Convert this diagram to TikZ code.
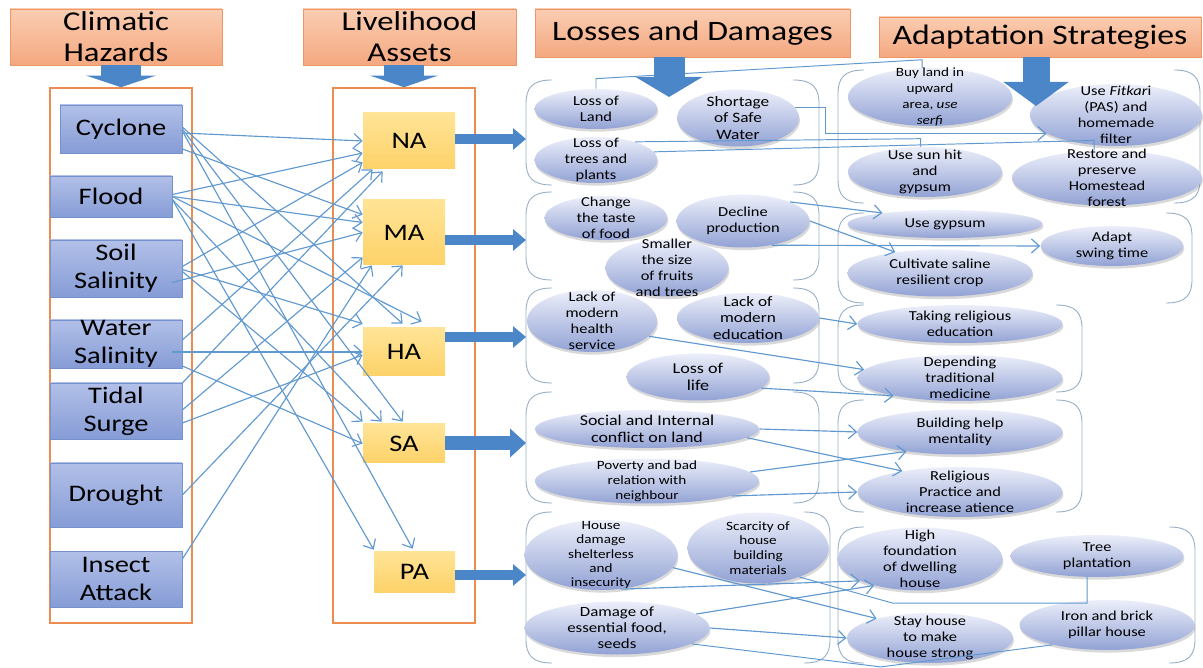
\documentclass[tikz,border=0pt]{standalone}
\usepackage{fontspec}
\setmainfont{Carlito}[FakeStretch=1.2]
\usetikzlibrary{shapes,arrows.meta,positioning,calc,shadows}

\definecolor{hdrtop}{RGB}{250,205,178}
\definecolor{hdrbot}{RGB}{244,168,128}
\definecolor{hdrline}{RGB}{238,150,100}
\definecolor{frameor}{RGB}{236,140,80}
\definecolor{hztop}{RGB}{178,192,232}
\definecolor{hzbot}{RGB}{134,156,214}
\definecolor{hzline}{RGB}{118,146,206}
\definecolor{astop}{RGB}{255,228,150}
\definecolor{asbot}{RGB}{253,210,105}
\definecolor{elltop}{RGB}{236,239,250}
\definecolor{ellbot}{RGB}{146,162,212}
\definecolor{linkblue}{RGB}{96,152,208}
\definecolor{fatblue}{RGB}{74,134,200}
\definecolor{brkcol}{RGB}{150,172,196}

\begin{document}
\begin{tikzpicture}[x=0.02cm,y=-0.02cm,
    dims/.style 2 args={minimum width=#1*0.02cm,minimum height=#2*0.02cm},
    hdr/.style={draw=hdrline,top color=hdrtop,bottom color=hdrbot,inner sep=0pt,align=center,font=\fontsize{15.5}{17.6}\selectfont},
    frame/.style={draw=frameor,line width=0.9pt,inner sep=0pt},
    hz/.style={draw=hzline,top color=hztop,bottom color=hzbot,inner sep=0pt,align=center,font=\fontsize{13.5}{16}\selectfont},
    asset/.style={top color=astop,bottom color=asbot,inner sep=0pt,font=\fontsize{13.5}{16}\selectfont},
    ell/.style={ellipse,inner xsep=-4pt,inner ysep=-12pt,top color=elltop,bottom color=ellbot,
        drop shadow={shadow xshift=0.5pt,shadow yshift=-1.5pt,opacity=0.3},align=center,
        text=black,font=\fontsize{7.8}{9}\selectfont},
    link/.style={draw=linkblue,line width=0.65pt,-{Straight Barb[length=4.5pt,width=8pt]}},
    wire/.style={draw=linkblue,line width=0.55pt},
    brk/.style={draw=brkcol,line width=0.5pt},
    fat/.style={draw=fatblue,line width=0.19cm,-{Triangle[length=0.26cm,width=0.42cm]}},
]
\useasboundingbox (0,0) rectangle (1203,668);

% column heads
\node[hdr,dims={212}{56}] (hCH) at (116,37) {Climatic\\Hazards};
\node[hdr,dims={213}{56}] (hLA) at (409.5,37) {Livelihood\\Assets};
\node[hdr,dims={315}{48},font=\fontsize{16}{18}\selectfont] (hLD) at (692.5,33) {Losses and Damages};
\node[hdr,dims={322}{40},font=\fontsize{16}{18}\selectfont] (hAS) at (1040,37) {Adaptation Strategies};

% frames
\node[frame,dims={142}{535}] (fCH) at (121,355.5) {};
\node[frame,dims={142}{535}] (fLA) at (404,355.5) {};

% hazards
\node[hz,dims={122}{48}] (cyc) at (121,129) {Cyclone};
\node[hz,dims={122}{41}] (fld) at (111,196.5) {Flood};
\node[hz,dims={132}{57}] (soil) at (116,268.5) {Soil\\Salinity};
\node[hz,dims={132}{48}] (wsal) at (116,344) {Water\\Salinity};
\node[hz,dims={132}{56}] (tide) at (116,411) {Tidal\\Surge};
\node[hz,dims={132}{64}] (drt) at (116,495) {Drought};
\node[hz,dims={132}{56}] (ins) at (116,579) {Insect\\Attack};

% assets
\node[asset,dims={92}{56}] (NA) at (409,141) {NA};
\node[asset,dims={82}{65}] (MA) at (404,232.5) {MA};
\node[asset,dims={82}{48}] (HA) at (404,352) {HA};
\node[asset,dims={82}{39}] (SA) at (404,443.5) {SA};
\node[asset,dims={81}{41}] (PA) at (414.5,571.5) {PA};

% hazard -> asset
\draw[link] ($(cyc.east)+(0,4)$) -- (NA.west);
\draw[link] ($(cyc.east)+(0,20)$) -- ($(MA.north west)+(0,15)$);
\draw[link] ($(cyc.east)+(0,-2)$) -- ($(HA.north west)+(40,-4)$);
\draw[link] (cyc.east) -- ($(SA.north west)+(40,-2)$);
\draw[link] ($(cyc.east)+(0,2)$) -- ($(PA.north west)+(39,-2)$);
\draw[link] ($(fld.east)+(0,-2)$) -- ($(NA.west)+(0,12)$);
\draw[link] (fld.east) -- ($(MA.west)+(0,-10)$);
\draw[link] (fld.east) -- ($(HA.north west)+(59,-6)$);
\draw[link] ($(fld.east)+(0,3)$) -- ($(SA.north west)+(19,-2)$);
\draw[link] ($(fld.east)+(0,3)$) -- ($(PA.north west)+(0,-1)$);
\draw[link] ($(soil.east)+(0,-2)$) -- ($(NA.south west)+(0,-7)$);
\draw[link] ($(soil.east)+(-10,14)$) -- (MA.west);
\draw[link] ($(soil.east)+(0,1)$) -- ($(HA.north west)+(0,-4)$);
\draw[link] ($(soil.east)+(0,3)$) -- ($(SA.north west)+(0,-2)$);
\draw[link] ($(wsal.east)+(0,-4)$) -- ($(NA.south west)+(10,0)$);
\draw[link] ($(wsal.east)+(-10,8)$) -- (HA.west);
\draw[link] ($(wsal.east)+(0,22)$) -- (SA.west);
\draw[link] ($(tide.east)+(0,-28)$) -- ($(NA.south west)+(20,2)$);
\draw[link] ($(tide.east)+(0,-1)$) -- ($(MA.south west)+(0,-8)$);
\draw[link] ($(tide.east)+(0,12)$) -- ($(HA.west)+(0,3)$);
\draw[link] (drt.east) -- ($(MA.south west)+(40,0)$);
\draw[link] ($(ins.east)+(0,-20)$) -- ($(MA.south west)+(9,0)$);

% group brackets
\foreach \xa/\xb/\ya/\yb in {526/819/80/185, 526/819/192/280, 526/819/288/383,
    526/819/392/503, 526/830/512/663, 838/1200/70/203, 838/1192/213/303,
    838/1082/305/392, 838/1082/400/512, 838/1195/527/663}{
  \draw[brk] (\xa+26,\ya) .. controls (\xa+6,\ya) and (\xa,\ya+8) .. (\xa,\ya+24)
    -- (\xa,\yb-24) .. controls (\xa,\yb-8) and (\xa+6,\yb) .. (\xa+26,\yb);
  \draw[brk] (\xb-26,\ya) .. controls (\xb-6,\ya) and (\xb,\ya+8) .. (\xb,\ya+24)
    -- (\xb,\yb-24) .. controls (\xb,\yb-8) and (\xb-6,\yb) .. (\xb-26,\yb);
}

% asset -> group
\coordinate (g1) at (526,139);
\coordinate (g2) at (526,240);
\coordinate (g3) at (526,337);
\coordinate (g4) at (526,443);
\coordinate (g5) at (526,575);
\draw[fat] (NA.east |- g1) -- (g1);
\draw[fat] (MA.east |- g2) -- (g2);
\draw[fat] (HA.east |- g3) -- (g3);
\draw[fat,line width=0.28cm,-{Triangle[length=0.32cm,width=0.56cm]}] (SA.east |- g4) -- (g4);
\draw[fat] (PA.east |- g5) -- (g5);

% losses and damages
\node[ell,dims={123}{40}] (lland) at (596,109) {Loss of\\Land};
\node[ell,dims={122}{57},font=\fontsize{8.2}{9.2}\selectfont] (water) at (738,118) {Shortage\\of Safe\\Water};
\node[ell,dims={123}{46}] (trees) at (596,160) {Loss of\\trees and\\plants};
\node[ell,dims={123}{44}] (taste) at (606,218) {Change\\the taste\\of food};
\node[ell,dims={133}{53}] (decline) at (743,221) {Decline\\production};
\node[ell,dims={123}{57}] (smaller) at (667,268) {Smaller\\the size\\of fruits\\and trees};
\node[ell,dims={130}{62}] (health) at (592,321) {Lack of\\modern\\health\\service};
\node[ell,dims={142}{50},font=\fontsize{8.2}{9.4}\selectfont] (edu) at (748,318) {Lack of\\modern\\education};
\node[ell,dims={143}{47},font=\fontsize{8.6}{9.6}\selectfont] (life) at (698,377) {Loss of\\life};
\node[ell,dims={224}{38},font=\fontsize{8.5}{9.6}\selectfont] (conflict) at (647,429) {Social and Internal\\conflict on land};
\node[ell,dims={224}{45},font=\fontsize{7.2}{8.4}\selectfont] (poverty) at (647,481) {Poverty and bad\\relation with\\neighbour};
\node[ell,dims={153}{70},font=\fontsize{7.2}{8.2}\selectfont] (house) at (601,555) {House\\damage\\shelterless\\and\\insecurity};
\node[ell,dims={141}{71},font=\fontsize{7.2}{8.4}\selectfont] (scarcity) at (758,548) {Scarcity of\\house\\building\\materials};
\node[ell,dims={185}{53},font=\fontsize{8}{9.2}\selectfont] (food) at (617,628) {Damage of\\essential food,\\seeds};

% adaptation strategies
\node[ell,dims={164}{58},font=\fontsize{7.2}{9}\selectfont] (buy) at (930,97) {Buy land in\\upward\\area, \textit{use}\\\textit{serfi}};
\node[ell,dims={172}{62}] (fitkari) at (1116,115) {Use \textit{Fitkar}i\\(PAS) and\\homemade\\filter};
\node[ell,dims={154}{50}] (sunhit) at (925,172) {Use sun hit\\and\\gypsum};
\node[ell,dims={190}{55}] (restore) at (1107,178) {Restore and\\preserve\\Homestead\\forest};
\node[ell,dims={195}{28}] (gyps) at (945,224) {Use gypsum};
\node[ell,dims={143}{40}] (swing) at (1112,246) {Adapt\\swing time};
\node[ell,dims={185}{47}] (saline) at (940,273) {Cultivate saline\\resilient crop};
\node[ell,dims={205}{38}] (relig) at (960,324) {Taking religious\\education};
\node[ell,dims={205}{46}] (medicine) at (960,378) {Depending\\traditional\\medicine};
\node[ell,dims={205}{45}] (helpm) at (960,432) {Building help\\mentality};
\node[ell,dims={205}{50}] (practice) at (960,492) {Religious\\Practice and\\increase atience};
\node[ell,dims={165}{63}] (found) at (920,559) {High\\foundation\\of dwelling\\house};
\node[ell,dims={173}{42}] (tree) at (1097,556) {Tree\\plantation};
\node[ell,dims={166}{50}] (stay) at (930,638) {Stay house\\to make\\house strong};
\node[ell,dims={175}{50}] (pillar) at (1107,625) {Iron and brick\\pillar house};

% losses -> strategies
\draw[wire] (lland.north) -- ++(0,-10) -- ($(buy.105)+(0,-8)$) -- (buy.105);
\draw[link] (water.10) -- ++(30,0) |- (fitkari.195);
\draw[wire] (trees.25) -- ($(sunhit.100)+(0,-8)$) -- (sunhit.100);
\draw[wire] (trees.8) -- ($(restore.115)+(0,-10)$) -- (restore.115);
\draw[link] (decline.22) -- (gyps.170);
\draw[link] (decline.east) -- (saline.155);
\draw[link] (decline.-40) -- (swing.west);
\draw[link] (edu.east) -- (relig.west);
\draw[link] (health.-15) -- (medicine.175);
\draw[link] (life.-10) -- (medicine.195);
\draw[link] (conflict.east) -- (helpm.west);
\draw[link] (conflict.-5) -- (practice.160);
\draw[link] (poverty.5) -- (helpm.200);
\draw[link] (poverty.-10) -- (practice.west);
\draw[link] (house.-10) -- (stay.160);
\draw[link] (house.-60) -- (found.200);
\draw[link] (food.10) -- (found.210);
\draw[link] (food.east) -- (stay.west);
\draw[wire] (food.-12) -- ++(189,23) -- (pillar.200);
\draw[wire] (scarcity.-35) -- ++(93,26) -| (tree.-115);

% down arrows under the heads
\coordinate (tLD) at (669,97);
\coordinate (tAS) at (1036,106);
\draw[draw=fatblue,line width=0.8cm,-{Triangle[length=0.23cm,width=1.38cm]}] (hCH.south -| fCH.north) -- (fCH.north);
\draw[draw=fatblue,line width=0.8cm,-{Triangle[length=0.23cm,width=1.34cm]}] (hLA.south -| fLA.north) -- (fLA.north);
\draw[draw=fatblue,line width=0.62cm,-{Triangle[length=0.4cm,width=1.32cm]}] (hLD.south -| tLD) -- (tLD);
\draw[draw=fatblue,line width=0.54cm,-{Triangle[length=0.48cm,width=1.28cm]}] (hAS.south -| tAS) -- (tAS);
\end{tikzpicture}
\end{document}
